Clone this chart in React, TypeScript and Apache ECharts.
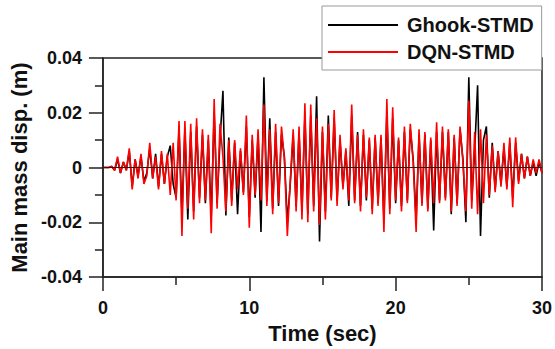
import React, { useEffect, useRef } from "react";
import * as echarts from "echarts";

const DT = 0.2; // sampling step (sec) of the digitised extrema
const xTicks = [0, 10, 20, 30];
const yTicks = [-0.04, -0.02, 0, 0.02, 0.04];

const ghookSTMD = [
  0, 0, 0, 0.0004, -0.001, 0.003, -0.002, 0.002, -0.001, 0.006,
  -0.007, 0.003, -0.003, 0.004, -0.005, -0.002, 0.007, -0.004, 0.005, -0.007,
  0.005, -0.006, 0.004, 0.008, -0.006, -0.011, 0.014, -0.017, 0.014, -0.019,
  0.013, -0.016, 0.015, -0.011, 0.012, -0.013, 0.01, -0.018, 0.02, -0.013,
  0.01, 0.028, -0.0175, 0.011, -0.012, 0.009, -0.017, 0.006, -0.009, 0.015,
  -0.018, 0.01, -0.011, 0.012, -0.0235, 0.033, -0.012, 0.018, -0.015, 0.013,
  -0.014, 0.012, 0.004, -0.02, -0.006, 0.012, -0.014, 0.013, -0.016, 0.019,
  -0.017, 0.019, -0.014, 0.026, -0.027, 0.013, -0.016, 0.019, -0.011, 0.018,
  -0.012, 0.01, -0.007, 0.006, -0.014, 0.019, -0.012, 0.013, -0.014, 0.012,
  -0.012, 0.01, -0.015, 0.011, -0.013, 0.011, -0.019, 0.02, -0.015, 0.018,
  -0.013, 0.01, -0.014, 0.013, -0.012, 0.014, 0.003, -0.019, 0.012, -0.013,
  0.012, -0.015, 0.01, -0.023, 0.013, -0.012, 0.013, -0.011, 0.013, -0.017,
  0.011, -0.013, 0.014, 0.003, -0.02, 0.033, -0.012, 0.006, 0.03, -0.025,
  0.01, 0.015, -0.011, 0.009, -0.008, 0.006, -0.006, 0.007, -0.007, 0.009,
  -0.011, 0.009, -0.005, 0.005, -0.004, 0.004, -0.003, 0.002, -0.003, 0.002,
  -0.002,
];

const dqnSTMD = [
  0, 0, 0, 0.0005, -0.001, 0.004, -0.002, 0.002, -0.001, 0.007,
  -0.008, 0.003, -0.004, 0.005, -0.006, -0.003, 0.009, -0.004, 0.004, -0.008,
  0.006, -0.006, 0.005, -0.01, 0.009, -0.012, 0.017, -0.025, 0.017, -0.015,
  0.016, -0.019, 0.018, -0.013, 0.014, -0.012, 0.012, -0.024, 0.025, -0.015,
  0.016, 0.004, -0.016, 0.01, -0.014, 0.01, -0.008, 0.007, -0.01, 0.019,
  -0.022, 0.012, -0.01, 0.014, -0.012, 0.023, -0.014, 0.014, -0.017, 0.016,
  -0.013, 0.015, 0.003, -0.025, -0.005, 0.014, -0.016, 0.015, -0.019, 0.0235,
  -0.02, 0.023, -0.016, 0.018, -0.021, 0.015, -0.019, 0.016, -0.012, 0.021,
  -0.014, 0.012, -0.008, 0.007, -0.012, 0.023, -0.013, 0.012, -0.016, 0.014,
  -0.011, 0.011, -0.017, 0.012, -0.014, 0.012, -0.0235, 0.025, -0.017, 0.022,
  -0.012, 0.011, -0.016, 0.015, -0.013, 0.016, 0.002, -0.0235, 0.014, -0.014,
  0.013, -0.016, 0.011, -0.013, 0.0165, -0.013, 0.015, -0.012, 0.014, -0.016,
  0.012, -0.014, 0.015, 0.002, -0.016, 0.0245, -0.015, 0.013, -0.017, 0.014,
  -0.013, 0.012, -0.01, 0.008, -0.009, 0.006, -0.007, 0.009, -0.008, 0.011,
  -0.0145, 0.011, -0.006, 0.005, -0.004, 0.004, -0.003, 0.003, -0.002, 0.003,
  -0.002,
];

const FONT = '"Liberation Sans", Arial, Helvetica, sans-serif';

export default function App() {
  const ref = useRef<HTMLDivElement>(null);
  useEffect(() => {
    if (!ref.current) return;
    const chart = echarts.init(ref.current, undefined, { renderer: "svg" });
    const toPairs = (arr: number[]) => arr.map((v, i) => [+(i * DT).toFixed(2), v]);
    chart.setOption({
      animation: false,
      backgroundColor: "#ffffff",
      grid: {
        left: 100,
        right: 11,
        top: 58,
        bottom: 69,
        show: true,
        borderColor: "#222",
        borderWidth: 1.5,
        backgroundColor: "transparent",
      },
      legend: {
        orient: "vertical",
        left: 322,
        top: 6,
        padding: [9, 8, 8, 6],
        itemGap: 7,
        itemWidth: 70,
        itemHeight: 2,
        icon: "rect",
        backgroundColor: "#ffffff",
        borderColor: "#999",
        borderWidth: 1,
        z: 10,
        textStyle: {
          fontFamily: FONT,
          fontWeight: "bold",
          fontSize: 20,
          color: "#111",
          padding: [0, 0, 0, 4],
          lineHeight: 20,
        },
        data: ["Ghook-STMD", "DQN-STMD"],
      },
      xAxis: {
        type: "value",
        min: xTicks[0],
        max: xTicks[xTicks.length - 1],
        interval: 10,
        name: "Time (sec)",
        nameLocation: "middle",
        nameGap: 44,
        nameTextStyle: { fontFamily: FONT, fontWeight: "bold", fontSize: 22, color: "#111" },
        axisLine: { show: true, onZero: false, lineStyle: { color: "#222", width: 1.5 } },
        axisTick: { show: true, length: 14, lineStyle: { color: "#222", width: 1.5 } },
        minorTick: { show: true, splitNumber: 2, length: 8, lineStyle: { color: "#222", width: 1.5 } },
        axisLabel: {
          margin: 22,
          fontFamily: FONT,
          fontWeight: "bold",
          fontSize: 18,
          color: "#111",
          formatter: (v: number) => (xTicks.includes(v) ? String(v) : ""),
        },
        splitLine: { show: false },
      },
      yAxis: {
        type: "value",
        min: yTicks[0],
        max: yTicks[yTicks.length - 1],
        interval: 0.02,
        name: "Main mass disp. (m)",
        nameLocation: "middle",
        nameGap: 67,
        nameTextStyle: { fontFamily: FONT, fontWeight: "bold", fontSize: 22, color: "#111" },
        axisLine: { show: true, onZero: false, lineStyle: { color: "#222", width: 1.5 } },
        axisTick: { show: true, length: 14, lineStyle: { color: "#222", width: 1.5 } },
        minorTick: { show: true, splitNumber: 2, length: 8, lineStyle: { color: "#222", width: 1.5 } },
        axisLabel: {
          margin: 21,
          fontFamily: FONT,
          fontWeight: "bold",
          fontSize: 18,
          color: "#111",
          formatter: (v: number) => {
            const r = Math.round(v * 100) / 100;
            return r === 0 ? "0" : r.toFixed(2);
          },
        },
        splitLine: { show: false },
      },
      series: [
        {
          name: "Ghook-STMD",
          type: "line",
          data: toPairs(ghookSTMD),
          showSymbol: false,
          symbol: "none",
          lineStyle: { color: "#000000", width: 1.6 },
          itemStyle: { color: "#000000" },
          z: 2,
        },
        {
          name: "DQN-STMD",
          type: "line",
          data: toPairs(dqnSTMD),
          showSymbol: false,
          symbol: "none",
          lineStyle: { color: "#ff0000", width: 1.6 },
          itemStyle: { color: "#ff0000" },
          z: 3,
          markLine: {
            silent: true,
            symbol: "none",
            label: { show: false },
            lineStyle: { color: "#3a1010", width: 1, type: "solid" },
            data: [{ yAxis: 0 }],
          },
        },
      ],
    });
    return () => chart.dispose();
  }, []);
  return (
    <div
      ref={ref}
      style={{ position: "fixed", left: 0, top: 0, width: 555, height: 349, background: "#fff" }}
    />
  );
}
